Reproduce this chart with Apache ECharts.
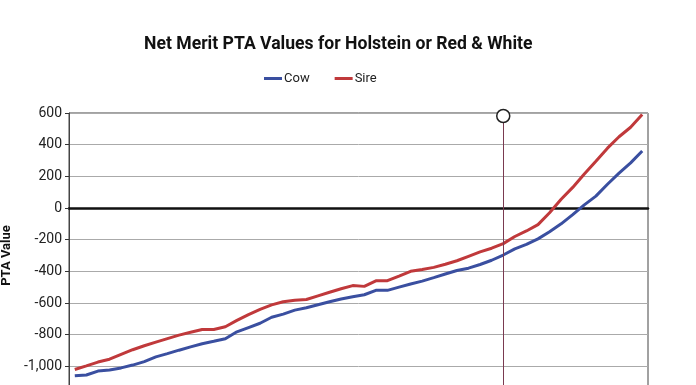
<!DOCTYPE html>
<html><head><meta charset="utf-8">
<script src="https://cdn.jsdelivr.net/npm/echarts@6/dist/echarts.min.js"></script>
<style>html,body{margin:0;padding:0;background:#fff}#c{width:696px;height:385px}</style>
</head><body><div id="c"></div>
<script>
const percentiles = [1,3,5,7,9,11,13,15,17,19,21,23,25,27,29,31,33,35,37,39,41,43,45,47,49,51,53,55,57,59,61,63,65,67,69,71,73,75,77,79,81,83,85,87,89,91,93,95,97,99];
const cow = [-1060,-1055,-1030,-1023,-1010,-992,-970,-940,-920,-898,-877,-857,-842,-826,-782,-755,-728,-690,-670,-645,-630,-611,-592,-575,-560,-548,-520,-520,-500,-480,-462,-440,-417,-395,-380,-357,-330,-297,-258,-230,-195,-150,-100,-42,20,75,150,220,285,360];
const sire = [-1020,-997,-973,-955,-925,-895,-870,-847,-825,-803,-785,-767,-767,-750,-710,-673,-640,-612,-592,-582,-578,-555,-532,-510,-490,-495,-460,-459,-430,-400,-388,-375,-355,-333,-305,-277,-254,-225,-180,-145,-105,-30,55,130,215,296,378,450,510,590];
const markerPercentile = 75;
const yTicks = {min: -1200, max: 600, interval: 200};

const chart = echarts.init(document.getElementById('c'), null, {renderer: 'canvas'});
const font = 'Roboto, "Open Sans", sans-serif';
chart.setOption({
  animation: false,
  backgroundColor: '#fff',
  title: {
    text: 'Net Merit PTA Values for Holstein or Red & White',
    left: 139, top: 31,
    textStyle: {fontFamily: font, fontSize: 17.6, fontWeight: 'bold', color: '#111'}
  },
  legend: {
    top: 67, left: 259,
    icon: 'rect', itemWidth: 18, itemHeight: 3, itemGap: 25,
    textStyle: {fontFamily: font, fontSize: 13, color: '#222', padding: [0,0,0,-3]},
    data: ['Cow', 'Sire']
  },
  grid: {left: 69, right: 48, top: 113, bottom: -13, outerBoundsMode: 'none', containLabel: false,
    show: true, borderColor: '#444', borderWidth: 1},
  xAxis: {
    type: 'value', min: 0, max: 100,
    axisLine: {show: true, onZero: true, lineStyle: {color: '#111', width: 2.5}},
    axisTick: {show: false}, axisLabel: {show: false}, splitLine: {show: false}
  },
  yAxis: {
    type: 'value', min: yTicks.min, max: yTicks.max, interval: yTicks.interval,
    name: 'PTA Value', nameLocation: 'middle', nameGap: 48,
    nameTextStyle: {fontFamily: font, fontSize: 13, fontWeight: 'bold', color: '#111'},
    axisLine: {show: true, lineStyle: {color: '#444'}},
    axisTick: {show: true, length: 4, lineStyle: {color: '#333'}},
    axisLabel: {fontFamily: font, fontSize: 14, color: '#222', margin: 7,
      formatter: v => v.toLocaleString('en-US')},
    splitLine: {lineStyle: {color: '#aaa', width: 1}}
  },
  series: [
    {name: 'Cow', type: 'line', data: percentiles.map((p, i) => [p, cow[i]]),
     showSymbol: false, symbol: 'none', color: '#3a4fa0', lineStyle: {width: 3}},
    {name: 'Sire', type: 'line', data: percentiles.map((p, i) => [p, sire[i]]),
     showSymbol: false, symbol: 'none', color: '#c0393b', lineStyle: {width: 3},
     markLine: {
       silent: true, symbol: ['none', 'none'],
       label: {show: false},
       lineStyle: {color: '#7a3a50', width: 1, type: 'solid'},
       data: [{xAxis: markerPercentile}]
     },
     markPoint: {
       silent: true, symbol: 'circle', symbolSize: 13, symbolOffset: [0, 3],
       itemStyle: {color: '#fff', borderColor: '#222', borderWidth: 1.5},
       label: {show: false},
       data: [{coord: [markerPercentile, yTicks.max]}]
     }}
  ]
});
</script></body></html>
